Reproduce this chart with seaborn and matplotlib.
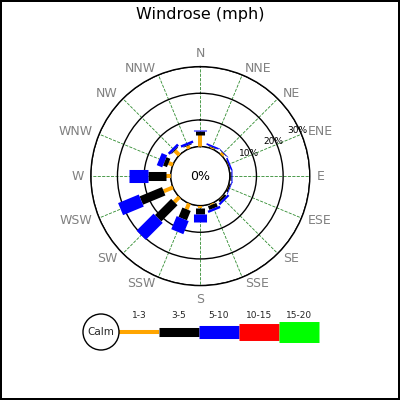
import numpy as np
import matplotlib
matplotlib.use("Agg")
import matplotlib.pyplot as plt
import seaborn as sns

# --- data (percent of observations per direction and speed class) ---
directions = ['N', 'NNE', 'NE', 'ENE', 'E', 'ESE', 'SE', 'SSE',
              'S', 'SSW', 'SW', 'WSW', 'W', 'WNW', 'NW', 'NNW']
speed_classes = ['1-3', '3-5', '5-10', '10-15', '15-20']
spd_1_3 = [4.5, 0.5, 1.0, 0.2, 0.2, 0.2, 0.3, 0.5, 1.0, 2.4, 2.7, 3.8, 1.8, 1.8, 2.4, 1.2]
spd_3_5 = [1.3, 0.2, 0.2, 0.2, 0.2, 0.5, 0.8, 1.5, 2.1, 3.8, 8.6, 9.1, 6.6, 1.6, 0.3, 0.3]
spd_5_10 = [0.6, 0.6, 0.2, 0.6, 0.6, 0.3, 0.8, 0.9, 2.9, 5.3, 9.0, 8.4, 7.2, 2.2, 1.0, 0.9]
spd_10_15 = [0.0] * 16
spd_15_20 = [0.0] * 16
ring_levels = [10, 20, 30]

colors = ['#FFA500', '#000000', '#0000FF', '#FF0000', '#00FF00']
widths = [2.9, 6.5, 9.4, 12.2, 15.1]  # points

sns.set_theme(style='white')
plt.rcParams['font.family'] = ['DejaVu Sans']

fig = plt.figure(figsize=(4, 4), dpi=100)
fig.patch.set_facecolor('white')
fig.patch.set_edgecolor('black')
fig.patch.set_linewidth(1.5)

ax = fig.add_axes([0.227, 0.286, 0.5475, 0.5475], projection='polar')
ax.set_theta_zero_location('N')
ax.set_theta_direction(-1)
ax.set_ylim(0, 30)
ax.set_rorigin(-11.06)
ax.set_facecolor('white')

theta = np.deg2rad(np.arange(16) * 22.5)
ax.set_xticks(theta)
ax.set_xticklabels([])
ax.set_yticks([0] + ring_levels)
ax.set_yticklabels([])
ax.xaxis.grid(True, color='#2e8b2e', linestyle='--', linewidth=0.6)
ax.yaxis.grid(True, color='black', linestyle='-', linewidth=1.0)
for name, sp in ax.spines.items():
    sp.set_color('black')
    sp.set_linewidth(1.0)

# stacked bars drawn as thick radial segments
series = [spd_1_3, spd_3_5, spd_5_10, spd_10_15, spd_15_20]
base = np.zeros(16)
for vals, col, w in zip(series, colors, widths):
    vals = np.array(vals)
    for t, b, v in zip(theta, base, vals):
        if v > 0:
            ax.plot([t, t], [b, b + v], color=col, lw=w, solid_capstyle='butt', zorder=3)
    base = base + vals

# direction labels
for t, lab in zip(theta, directions):
    deg = np.rad2deg(t)
    if deg == 0:
        ha, va = 'center', 'bottom'
    elif deg == 180:
        ha, va = 'center', 'top'
    elif deg < 180:
        ha, va = 'left', 'center'
    else:
        ha, va = 'right', 'center'
    ax.text(t, 32.6, lab, ha=ha, va=va, fontsize=9, color='#808080', clip_on=False)

# ring labels
for lv in ring_levels:
    ax.text(np.deg2rad(65), lv - 0.8, f'{lv}%', ha='center', va='center', fontsize=6.5,
            color='black', zorder=4)

ax.text(0, -11.06, '0%', ha='center', va='center', fontsize=9, color='black')

fig.text(0.5, 1 - 14 / 400, 'Windrose (mph)', ha='center', va='center', fontsize=11.5, color='black')

# legend
lg = fig.add_axes([0, 0, 1, 1])
lg.set_xlim(0, 400)
lg.set_ylim(400, 0)
lg.axis('off')
lg.patch.set_alpha(0)
lg.add_patch(plt.Circle((101, 332), 18, facecolor='white', edgecolor='black', lw=1, zorder=3))
lg.text(101, 332, 'Calm', ha='center', va='center', fontsize=7.5, zorder=4)
for i, (lab, col, w) in enumerate(zip(speed_classes, colors, widths)):
    x0 = 119 + 40 * i
    lg.plot([x0, x0 + 40], [332, 332], color=col, lw=w, solid_capstyle='butt')
    lg.text(x0 + 20, 315, lab, ha='center', va='center', fontsize=6.5)

fig.savefig('out.png', dpi=100, facecolor=fig.get_facecolor(), edgecolor=fig.get_edgecolor())
